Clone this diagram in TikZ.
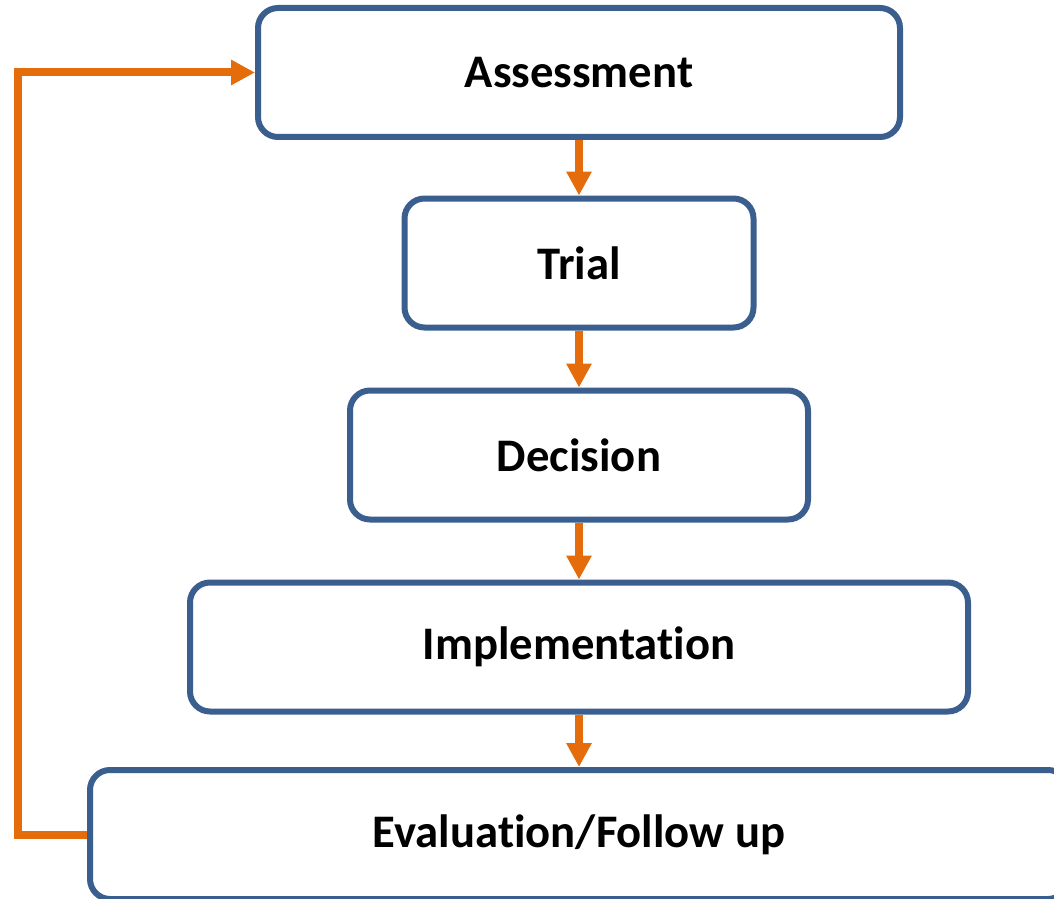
\documentclass[tikz,border=0pt]{standalone}
\usepackage{fontspec}
\setmainfont[Ligatures=NoCommon]{Carlito}
\usetikzlibrary{arrows.meta}
\definecolor{boxblue}{RGB}{58,95,143}
\definecolor{arrorange}{RGB}{228,108,10}
\tikzset{stage/.style={draw=boxblue, line width=4.5pt, rounded corners=15pt, fill=white,
    minimum height=96.75pt, font=\fontsize{35}{40}\selectfont\bfseries},
  flow/.style={draw=arrorange, line width=6pt, -{Triangle[length=18pt,width=18pt]}}}
\begin{document}
\begin{tikzpicture}[x=0.75pt,y=-0.75pt]
    \clip (0,0) rectangle (1054,899);

\node[stage, minimum width=481.5pt] (assess) at (579,72.5) {Assessment};
\node[stage, minimum width=261.75pt] (trial) at (579,263) {Trial};
\node[stage, minimum width=343.5pt] (decide) at (579,455) {Decision};
\node[stage, minimum width=583.5pt] (implem) at (579,647) {Implementation};
\node[stage, minimum width=733.5pt] (evalfu) at (579,834.5) {Evaluation/Follow up};

\draw[flow] (assess.south) -- (trial.north);
\draw[flow] (trial.south) -- (decide.north);
\draw[flow] (decide.south) -- (implem.north);
\draw[flow] (implem.south) -- (evalfu.north);

% back to the start
\draw[flow] (evalfu.west) -- ++(-69,0) |- (assess.west);

\end{tikzpicture}
\end{document}
